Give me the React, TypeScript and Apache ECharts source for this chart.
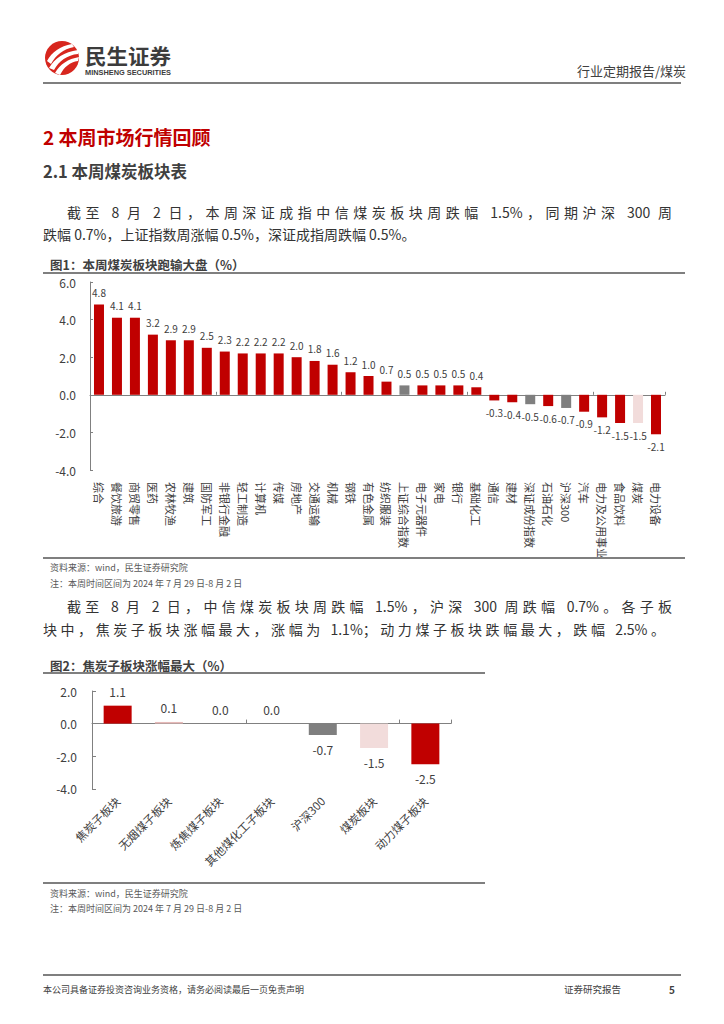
import React, { useEffect, useRef } from "react";
import * as echarts from "echarts";

// ---------- Data ----------
const sectors = [
  "综合", "餐饮旅游", "商贸零售", "医药", "农林牧渔", "建筑", "国防军工", "非银行金融",
  "轻工制造", "计算机", "传媒", "房地产", "交通运输", "机械", "钢铁", "有色金属",
  "纺织服装", "上证综合指数", "电子元器件", "家电", "银行", "基础化工", "通信", "建材",
  "深证成份指数", "石油石化", "沪深300", "汽车", "电力及公用事业", "食品饮料", "煤炭", "电力设备",
];
const sectorChanges = [
  4.8, 4.1, 4.1, 3.2, 2.9, 2.9, 2.5, 2.3,
  2.2, 2.2, 2.2, 2.0, 1.8, 1.6, 1.2, 1.0,
  0.7, 0.5, 0.5, 0.5, 0.5, 0.4, -0.3, -0.4,
  -0.5, -0.6, -0.7, -0.9, -1.2, -1.5, -1.5, -2.1,
];
const indexNames = ["上证综合指数", "深证成份指数", "沪深300"];
const coalName = "煤炭";

const subSectors = ["焦炭子板块", "无烟煤子板块", "炼焦煤子板块", "其他煤化工子板块", "沪深300", "煤炭板块", "动力煤子板块"];
const subChanges = [1.1, 0.1, 0.0, 0.0, -0.7, -1.5, -2.5];

const yAxis1 = { min: -4, max: 6, interval: 2 };
const yAxis2 = { min: -4, max: 2, interval: 2 };

// ---------- Styles ----------
const RED = "#C00000";
const GRAY = "#7F7F7F";
const PINK = "#F2DCDB";
const LIGHTRED = "#E6B9B8";
const TXT = "#404040";
const AXIS = "#808080";
const FONT = "'Noto Sans CJK SC', 'Noto Sans', sans-serif";

const subColors = [RED, LIGHTRED, PINK, PINK, GRAY, PINK, RED];

const fmt = (v: number) => (Math.round(v * 10) / 10).toFixed(1);

function barData(values: number[], colors: string[]) {
  return values.map((v, i) => ({
    value: v,
    itemStyle: { color: colors[i] },
    label: { position: v < 0 ? "bottom" : "top" },
  }));
}

function chart1Option() {
  const colors = sectors.map((s) =>
    indexNames.includes(s) ? GRAY : s === coalName ? PINK : RED
  );
  return {
    animation: false,
    grid: { left: 90, right: 59, top: 32, bottom: 92 },
    xAxis: [
      {
        type: "category",
        data: sectors,
        position: "bottom",
        axisLine: { onZero: true, lineStyle: { color: AXIS, width: 1 } },
        axisTick: { show: true, inside: true, length: 3, lineStyle: { color: AXIS } },
        axisLabel: { show: false },
      },
      {
        type: "category",
        data: sectors,
        position: "bottom",
        axisLine: { show: false, onZero: false },
        axisTick: { show: false },
        axisLabel: {
          show: true,
          interval: 0,
          rotate: -90,
          margin: 12,
          fontSize: 11,
          color: TXT,
          fontFamily: FONT,
        },
      },
    ],
    yAxis: {
      type: "value",
      min: yAxis1.min,
      max: yAxis1.max,
      interval: yAxis1.interval,
      axisLine: { show: true, lineStyle: { color: AXIS, width: 1 } },
      axisTick: { show: true, inside: true, length: 3, lineStyle: { color: AXIS } },
      splitLine: { show: false },
      axisLabel: { formatter: (v: number) => v.toFixed(1), fontSize: 12, color: TXT, margin: 14, fontFamily: FONT },
    },
    series: [
      {
        type: "bar",
        xAxisIndex: 0,
        barWidth: 10,
        data: barData(sectorChanges, colors),
        label: {
          show: true,
          distance: 7,
          fontSize: 10,
          color: TXT,
          fontFamily: FONT,
          formatter: (p: any) => fmt(p.value),
        },
      },
    ],
  };
}

function chart2Option() {
  return {
    animation: false,
    grid: { left: 92, right: 273, top: 11, bottom: 79 },
    xAxis: [
      {
        type: "category",
        data: subSectors,
        position: "bottom",
        axisLine: { onZero: true, lineStyle: { color: AXIS, width: 1 } },
        axisTick: { show: true, inside: true, length: 4, lineStyle: { color: AXIS } },
        axisLabel: { show: false },
      },
      {
        type: "category",
        data: subSectors,
        position: "bottom",
        axisLine: { show: false, onZero: false },
        axisTick: { show: false },
        axisLabel: {
          show: true,
          interval: 0,
          rotate: 45,
          margin: 10,
          fontSize: 11.5,
          color: TXT,
          fontFamily: FONT,
        },
      },
    ],
    yAxis: {
      type: "value",
      min: yAxis2.min,
      max: yAxis2.max,
      interval: yAxis2.interval,
      axisLine: { show: true, lineStyle: { color: AXIS, width: 1 } },
      axisTick: { show: true, inside: true, length: 4, lineStyle: { color: AXIS } },
      splitLine: { show: false },
      axisLabel: { formatter: (v: number) => v.toFixed(1), fontSize: 12, color: TXT, margin: 15, fontFamily: FONT },
    },
    series: [
      {
        type: "bar",
        xAxisIndex: 0,
        barWidth: 28,
        data: barData(subChanges, subColors),
        label: {
          show: true,
          distance: 8,
          fontSize: 12,
          color: TXT,
          fontFamily: FONT,
          formatter: (p: any) => fmt(p.value),
        },
      },
    ],
  };
}

function Chart({ option, style }: { option: any; style: React.CSSProperties }) {
  const ref = useRef<HTMLDivElement>(null);
  useEffect(() => {
    if (!ref.current) return;
    const c = echarts.init(ref.current, undefined, { renderer: "svg" });
    c.setOption(option);
    return () => c.dispose();
  }, []);
  return <div ref={ref} style={{ position: "absolute", ...style }} />;
}

function Txt({ x, y, size, children, style }: { x: number; y: number; size: number; children: any; style?: React.CSSProperties }) {
  return (
    <div
      style={{
        position: "absolute",
        left: x,
        top: y - size * 0.7,
        fontSize: size,
        lineHeight: `${size * 1.4}px`,
        whiteSpace: "nowrap",
        color: TXT,
        ...style,
      }}
    >
      {children}
    </div>
  );
}

function Rule({ x1, x2, y, w = 1.5 }: { x1: number; x2: number; y: number; w?: number }) {
  return <div style={{ position: "absolute", left: x1, top: y - w / 2, width: x2 - x1, height: w, background: "#7F7F7F" }} />;
}

function Justified({ x1, x2, y, size, children }: { x1: number; x2: number; y: number; size: number; children: any }) {
  return (
    <div
      style={{
        position: "absolute",
        left: x1,
        top: y - size * 0.7,
        width: x2 - x1,
        fontSize: size,
        lineHeight: `${size * 1.4}px`,
        whiteSpace: "nowrap",
        textAlign: "justify",
        textAlignLast: "justify",
        color: "#333333",
      } as React.CSSProperties}
    >
      {children}
    </div>
  );
}

export default function App() {
  const P = 14;
  return (
    <div
      style={{
        position: "absolute",
        left: 0,
        top: 0,
        width: 724,
        height: 1024,
        background: "#ffffff",
        fontFamily: FONT,
        overflow: "hidden",
      }}
    >
      {/* Header logo */}
      <svg style={{ position: "absolute", left: 0, top: 0 }} width={724} height={90}>
        <circle cx={62} cy={58} r={17} fill="#D7261E" />
        <path d="M47 61 C52 52 60 46 72 44 L74 47 C63 49 56 55 51 64 Z" fill="#fff" />
        <path d="M49 68 C55 58 64 52 78 50 L78 54 C67 55 59 61 54 70 Z" fill="#fff" />
        <path d="M55 73 C60 64 68 59 79 57 L78 61 C70 62 64 67 60 75 Z" fill="#fff" />
        <text x={85} y={64} fontSize={21} fontWeight={700} fill="#3C3C3C" fontFamily={FONT} textLength={86} lengthAdjust="spacingAndGlyphs">民生证券</text>
        <text x={85} y={75} fontSize={7.5} fontWeight={700} fill="#3C3C3C" fontFamily="'Liberation Sans', sans-serif" textLength={86} lengthAdjust="spacingAndGlyphs">MINSHENG SECURITIES</text>
      </svg>
      <Txt x={577} y={71} size={13} style={{ color: "#404040", width: 104, textAlign: "right" }}>行业定期报告/煤炭</Txt>
      <Rule x1={43} x2={681} y={83} />

      {/* Headings */}
      <Txt x={43} y={137} size={19} style={{ color: RED, fontWeight: 700 }}>2 本周市场行情回顾</Txt>
      <Txt x={43} y={172} size={16.5} style={{ color: "#404040", fontWeight: 700 }}>2.1 本周煤炭板块表</Txt>

      {/* Paragraph 1 */}
      <Justified x1={67} x2={672} y={213} size={P}>截至 8 月 2 日，本周深证成指中信煤炭板块周跌幅 1.5%，同期沪深 300 周</Justified>
      <Txt x={43} y={235} size={P} style={{ color: "#333333" }}>跌幅 0.7%，上证指数周涨幅 0.5%，深证成指周跌幅 0.5%。</Txt>

      {/* Chart 1 */}
      <Txt x={50} y={265} size={12.5} style={{ fontWeight: 700, color: "#404040" }}>图1：本周煤炭板块跑输大盘（%）</Txt>
      <Rule x1={43} x2={685} y={273} />
      <Chart option={chart1Option()} style={{ left: 0, top: 250, width: 724, height: 312 }} />
      <Rule x1={43} x2={685} y={558} />
      <Txt x={50} y={568} size={9} style={{ color: "#595959" }}>资料来源：wind，民生证券研究院</Txt>
      <Txt x={50} y={584} size={9} style={{ color: "#595959" }}>注：本周时间区间为 2024 年 7 月 29 日-8 月 2 日</Txt>

      {/* Paragraph 2 */}
      <Justified x1={67} x2={672} y={607} size={P}>截至 8 月 2 日，中信煤炭板块周跌幅 1.5%，沪深 300 周跌幅 0.7%。各子板</Justified>
      <Justified x1={43} x2={665} y={630} size={P}>块中，焦炭子板块涨幅最大，涨幅为 1.1%；动力煤子板块跌幅最大，跌幅 2.5%。</Justified>

      {/* Chart 2 */}
      <Txt x={50} y={666} size={12.5} style={{ fontWeight: 700, color: "#404040" }}>图2：焦炭子板块涨幅最大（%）</Txt>
      <Rule x1={43} x2={485} y={673} />
      <Chart option={chart2Option()} style={{ left: 0, top: 680, width: 724, height: 190 }} />
      <Rule x1={43} x2={485} y={883} />
      <Txt x={50} y={894} size={9} style={{ color: "#595959" }}>资料来源：wind，民生证券研究院</Txt>
      <Txt x={50} y={909} size={9} style={{ color: "#595959" }}>注：本周时间区间为 2024 年 7 月 29 日-8 月 2 日</Txt>

      {/* Footer */}
      <Rule x1={43} x2={681} y={975} />
      <Txt x={43} y={990} size={9} style={{ color: "#404040" }}>本公司具备证券投资咨询业务资格，请务必阅读最后一页免责声明</Txt>
      <Txt x={564} y={990} size={9.5} style={{ color: "#404040" }}>证券研究报告</Txt>
      <Txt x={669} y={990} size={10} style={{ color: "#404040", fontWeight: 700 }}>5</Txt>
    </div>
  );
}
